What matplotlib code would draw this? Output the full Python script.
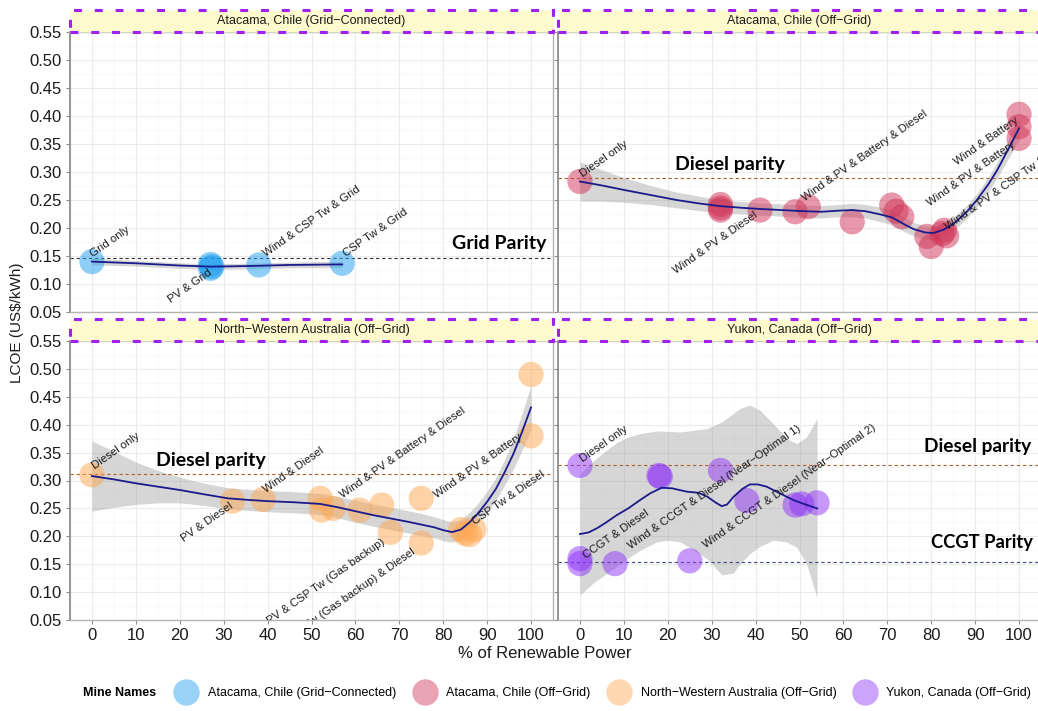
import numpy as np
import matplotlib.pyplot as plt
from matplotlib.lines import Line2D
from matplotlib.patches import Rectangle

plt.rcParams['font.family'] = ['Liberation Sans', 'DejaVu Sans']

# mine names / panel titles
panels = ['Atacama, Chile (Grid\u2212Connected)', 'Atacama, Chile (Off\u2212Grid)',
          'North\u2212Western Australia (Off\u2212Grid)', 'Yukon, Canada (Off\u2212Grid)']
colors = ['#1F9FF0', '#D13357', '#FFA751', '#8F35F7']

# LCOE of each configuration vs % renewable power
gc_x = [0, 27, 27.3, 27, 38, 57]
gc_y = [0.140, 0.135, 0.131, 0.128, 0.134, 0.137]

og_x = [0, 32, 32, 32, 41, 49, 52, 62, 71, 72, 73.3, 79, 80, 82.5, 83.5, 83, 100, 100, 100]
og_y = [0.283, 0.242, 0.236, 0.232, 0.232, 0.229, 0.238, 0.211, 0.241, 0.230, 0.220,
        0.185, 0.167, 0.190, 0.186, 0.196, 0.403, 0.381, 0.360]

au_x = [0, 32, 39, 52, 52.3, 55, 61, 66, 68, 75, 75, 84, 85, 86, 87, 100, 100]
au_y = [0.310, 0.263, 0.266, 0.268, 0.247, 0.250, 0.247, 0.256, 0.207, 0.268, 0.188,
        0.212, 0.205, 0.203, 0.212, 0.490, 0.380]

yk_x = [0, 0, 0, 8, 18, 18.3, 25, 32, 38, 49, 50.5, 54]
yk_y = [0.327, 0.160, 0.151, 0.151, 0.309, 0.307, 0.156, 0.318, 0.264, 0.256, 0.258, 0.260]

# loess fits with confidence band
gc_fx = [0, 10, 20, 27, 35, 45, 57]
gc_fy = [0.140, 0.137, 0.133, 0.131, 0.132, 0.134, 0.135]
gc_lo = [0.134, 0.132, 0.128, 0.126, 0.127, 0.129, 0.129]
gc_hi = [0.146, 0.142, 0.138, 0.136, 0.137, 0.139, 0.141]

og_fx = [0, 5, 10, 16, 22, 27, 32, 37, 41, 46, 51, 55, 59, 62, 65, 68, 71, 74, 76,
         78.6, 80.5, 82.8, 85, 88, 90.4, 93, 95, 97.5, 100]
og_fy = [0.283, 0.276, 0.268, 0.259, 0.250, 0.244, 0.239, 0.236, 0.234, 0.232, 0.230,
         0.229, 0.231, 0.232, 0.230, 0.225, 0.219, 0.206, 0.198, 0.192, 0.191, 0.197,
         0.207, 0.228, 0.250, 0.278, 0.303, 0.340, 0.378]
og_se = [0.035, 0.028, 0.022, 0.017, 0.014, 0.013, 0.012, 0.011, 0.011, 0.011, 0.011,
         0.011, 0.011, 0.012, 0.012, 0.013, 0.013, 0.013, 0.012, 0.012, 0.012, 0.012,
         0.012, 0.012, 0.012, 0.013, 0.014, 0.017, 0.020]

au_fx = [0, 5, 10, 15, 20, 25, 31, 36, 40, 46, 52, 56, 60, 64, 68, 72, 75, 78, 80,
         82, 84, 86, 88, 90, 92, 94, 96, 98, 100]
au_fy = [0.308, 0.302, 0.295, 0.289, 0.283, 0.276, 0.268, 0.265, 0.263, 0.261, 0.258,
         0.252, 0.245, 0.238, 0.232, 0.226, 0.221, 0.216, 0.211, 0.2075, 0.212, 0.225,
         0.242, 0.262, 0.285, 0.315, 0.348, 0.388, 0.431]
au_se = [0.063, 0.050, 0.038, 0.029, 0.023, 0.020, 0.019, 0.019, 0.019, 0.019, 0.019,
         0.019, 0.020, 0.020, 0.020, 0.020, 0.020, 0.019, 0.019, 0.018, 0.018, 0.018,
         0.018, 0.019, 0.020, 0.023, 0.027, 0.033, 0.040]

yk_fx = [0, 2, 4, 6, 8.4, 11, 13.7, 16, 18.6, 21, 24.3, 27, 29, 31, 32.3, 33.5, 35,
         37, 38.7, 40.5, 42.5, 45, 48.6, 51, 54]
yk_fy = [0.204, 0.207, 0.215, 0.225, 0.238, 0.250, 0.265, 0.277, 0.287, 0.286, 0.280,
         0.278, 0.271, 0.260, 0.254, 0.257, 0.271, 0.285, 0.293, 0.293, 0.289, 0.279,
         0.265, 0.258, 0.250]
yk_bx = [0, 3, 6, 8.4, 11, 13.7, 17.5, 20, 22.8, 25, 28.9, 32.3, 34.9, 36.4, 38.7,
         41, 44, 47.1, 49.4, 51.6, 54]
yk_hi = [0.312, 0.335, 0.354, 0.368, 0.378, 0.384, 0.389, 0.388, 0.387, 0.389, 0.393,
         0.405, 0.420, 0.429, 0.435, 0.426, 0.402, 0.375, 0.366, 0.378, 0.411]
yk_lo = [0.095, 0.116, 0.133, 0.146, 0.161, 0.175, 0.190, 0.193, 0.190, 0.180, 0.160,
         0.131, 0.134, 0.150, 0.169, 0.182, 0.193, 0.190, 0.180, 0.151, 0.089]

# parity reference levels
grid_parity = 0.146
og_diesel_parity = 0.289
au_diesel_parity = 0.312
yk_diesel_parity = 0.3275
yk_ccgt_parity = 0.1545

# configuration labels: (text, x, y, side)
gc_labels = [('Grid only', 0.3, 0.148, 'l'), ('PV & Grid', 26.5, 0.130, 'r'),
             ('Wind & CSP Tw & Grid', 39.6, 0.148, 'l'), ('CSP Tw & Grid', 57.9, 0.148, 'l')]
og_labels = [('Diesel only', 0.6, 0.290, 'l'), ('Wind & PV & Diesel', 39.5, 0.232, 'r'),
             ('Wind & PV & Battery & Diesel', 51.3, 0.247, 'l'),
             ('Wind & Battery', 98.9, 0.402, 'r'), ('Wind & PV & Battery', 98.1, 0.357, 'r'),
             ('Wind & PV & CSP Tw & Diesel', 83.9, 0.196, 'l')]
au_labels = [('Diesel only', 0.6, 0.320, 'l'), ('PV & Diesel', 31.1, 0.264, 'r'),
             ('Wind & Diesel', 39.7, 0.277, 'l'),
             ('Wind & PV & Battery & Diesel', 57.2, 0.268, 'l'),
             ('PV & CSP Tw (Gas backup)', 65.8, 0.200, 'r'),
             ('PV & CSP Tw (Gas backup) & Diesel', 72.7, 0.181, 'r'),
             ('Wind & PV & Battery', 78.5, 0.268, 'l'), ('CSP Tw & Diesel', 87.2, 0.220, 'l')]
yk_labels = [('Diesel only', 0.6, 0.333, 'l'), ('CCGT & Diesel', 1.4, 0.160, 'l'),
             ('Wind & CCGT & Diesel (Near\u2212Optimal 1)', 11.5, 0.176, 'l'),
             ('Wind & CCGT & Diesel (Near\u2212Optimal 2)', 28.6, 0.178, 'l')]

W, H = 1038, 711
fig = plt.figure(figsize=(W / 100, H / 100), dpi=100)


def add_px_axes(x0, y0, x1, y1):
    return fig.add_axes([x0 / W, 1 - y1 / H, (x1 - x0) / W, (y1 - y0) / H])


def strip(x0, x1, y0, y1, title):
    s = add_px_axes(x0, y0, x1, y1)
    s.set_axis_off()
    s.add_patch(Rectangle((0, 0), 1, 1, transform=s.transAxes, facecolor='#FFFACD',
                          edgecolor='#A020F0', lw=2.2, ls=(0, (2.6, 4.2)), clip_on=False))
    s.text(0.5, 0.5, title, transform=s.transAxes, ha='center', va='center',
           fontsize=9, color='#1a1a1a')


def panel(x0, x1, y0, y1, title, show_x, show_y):
    ax = add_px_axes(x0, y0, x1, y1)
    strip(x0, x1, y0 - 22, y0, title)
    ax.set_xlim(-5, 105)
    ax.set_ylim(0.05, 0.55)
    ax.set_xticks(np.arange(0, 101, 10))
    ax.set_xticks(np.arange(5, 101, 10), minor=True)
    ax.set_yticks(np.arange(0.05, 0.551, 0.05))
    ax.set_yticks(np.arange(0.075, 0.55, 0.05), minor=True)
    ax.set_yticklabels(['%.2f' % v for v in np.arange(0.05, 0.551, 0.05)])
    ax.grid(which='major', color='#ebebeb', lw=0.8)
    ax.grid(which='minor', color='#f5f5f5', lw=0.5)
    ax.set_axisbelow(True)
    for sp in ax.spines.values():
        sp.set_color('#b3b3b3')
        sp.set_linewidth(1.0)
    ax.spines['left'].set_color('#8c8c8c')
    ax.spines['left'].set_linewidth(1.3)
    ax.tick_params(which='major', length=3, color='#8c8c8c', labelsize=12,
                   labelcolor='#1a1a1a', pad=3)
    ax.tick_params(which='minor', length=0)
    if not show_x:
        ax.tick_params(axis='x', which='major', length=0, labelbottom=False)
    if not show_y:
        ax.tick_params(axis='y', which='major', labelleft=False)
    return ax


def draw(ax, px, py, color, fx, fy, lo, hi, bx, labels):
    ax.fill_between(bx, lo, hi, color='#999999', alpha=0.4, lw=0, zorder=1)
    ax.scatter(px, py, s=330, color=color, alpha=0.5, edgecolors='none', zorder=3)
    ax.plot(fx, fy, color='#1a1a8c', lw=1.3, zorder=4)
    for txt, x, y, side in labels:
        if side == 'l':
            ax.text(x, y, txt, rotation=35, rotation_mode='anchor', ha='left',
                    va='baseline', fontsize=8.2, color='#1a1a1a', zorder=5, clip_on=True)
        else:
            ax.text(x, y, txt, rotation=35, rotation_mode='anchor', ha='right',
                    va='top', fontsize=8.2, color='#1a1a1a', zorder=5, clip_on=True)


def parity(ax, level, color, label, lx, ly, size=14):
    ax.axhline(level, color=color, lw=0.8, ls=(0, (3, 2.5)), zorder=2)
    ax.text(lx, ly, label, ha='left', va='center', fontsize=size, fontweight='bold',
            family=['Lato', 'DejaVu Sans'], color='black', zorder=5)


L0, L1 = 70, 553
R0, R1 = 558, 1041
T0, T1 = 32, 312
B0, B1 = 341, 620

ax1 = panel(L0, L1, T0, T1, panels[0], False, True)
ax2 = panel(R0, R1, T0, T1, panels[1], False, False)
ax3 = panel(L0, L1, B0, B1, panels[2], True, True)
ax4 = panel(R0, R1, B0, B1, panels[3], True, False)

draw(ax1, gc_x, gc_y, colors[0], gc_fx, gc_fy, gc_lo, gc_hi, gc_fx, gc_labels)
draw(ax2, og_x, og_y, colors[1], og_fx, og_fy,
     np.subtract(og_fy, og_se), np.add(og_fy, og_se), og_fx, og_labels)
draw(ax3, au_x, au_y, colors[2], au_fx, au_fy,
     np.subtract(au_fy, au_se), np.add(au_fy, au_se), au_fx, au_labels)
draw(ax4, yk_x, yk_y, colors[3], yk_fx, yk_fy, yk_lo, yk_hi, yk_bx, yk_labels)

parity(ax1, grid_parity, '#333333', 'Grid Parity', 82, 0.173)
parity(ax2, og_diesel_parity, '#B0602A', 'Diesel parity', 21.6, 0.314)
parity(ax3, au_diesel_parity, '#B0602A', 'Diesel parity', 14.6, 0.336)
parity(ax4, yk_diesel_parity, '#B0602A', 'Diesel parity', 78.4, 0.3615, size=13.8)
parity(ax4, yk_ccgt_parity, '#3A4A7A', 'CCGT Parity', 80.0, 0.189, size=13.2)

fig.text(17 / W, 1 - 323 / H, r'LCOE (US\$/kWh)', rotation=90, ha='center', va='center',
         fontsize=11, color='#1a1a1a')
fig.text(545 / W, 1 - 653 / H, '% of Renewable Power', ha='center', va='center',
         fontsize=12, color='#1a1a1a')

# legend along the bottom
fig.text(83 / W, 1 - 693 / H, 'Mine Names', ha='left', va='center', fontsize=9,
         fontweight='bold')
handles = [Line2D([], [], ls='', marker='o', markersize=19, markerfacecolor=c,
                  markeredgecolor='none', alpha=0.45) for c in colors]
fig.legend(handles, panels, loc='center left', bbox_to_anchor=(180 / W, 1 - 693 / H),
           ncol=4, frameon=False, fontsize=9, handlelength=1.0, handletextpad=1.26,
           columnspacing=1.74, borderpad=0, borderaxespad=0)

fig.savefig('out.png', dpi=100)
